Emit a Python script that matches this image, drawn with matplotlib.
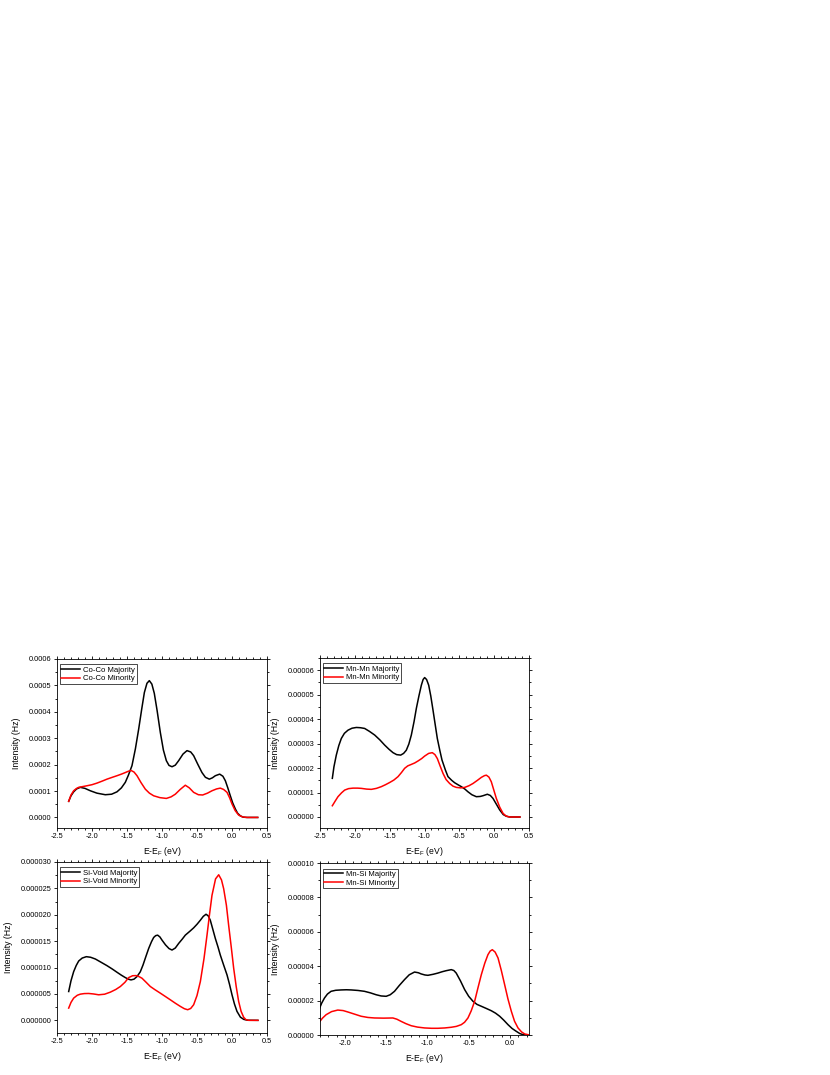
import numpy as np
import matplotlib
matplotlib.use("Agg")
import matplotlib.pyplot as plt
from matplotlib.ticker import MultipleLocator, FormatStrFormatter

plt.rcParams["font.family"] = ["Liberation Sans", "DejaVu Sans"]

# Co-Co (values in units of 1e-4 Hz)
coco_maj_x = [-2.333, -2.30, -2.262, -2.22, -2.167, -2.10, -2.024, -1.93, -1.81, -1.72, -1.643,
              -1.58, -1.524, -1.48, -1.429, -1.38, -1.333, -1.29, -1.252, -1.215, -1.181, -1.145,
              -1.110, -1.07, -1.024, -0.98, -0.938, -0.90, -0.857, -0.81, -0.762, -0.70, -0.643,
              -0.59, -0.548, -0.49, -0.429, -0.38, -0.324, -0.28, -0.238, -0.176, -0.13, -0.095,
              -0.06, -0.024, 0.01, 0.048, 0.08, 0.119, 0.16, 0.214, 0.367]
coco_maj_y = [0.61, 0.82, 0.97, 1.08, 1.14, 1.10, 1.01, 0.92, 0.86, 0.88, 0.97,
              1.12, 1.33, 1.60, 1.96, 2.60, 3.35, 4.10, 4.73, 5.08, 5.18, 5.05,
              4.70, 4.05, 3.22, 2.55, 2.15, 1.97, 1.92, 1.98, 2.15, 2.40, 2.53,
              2.48, 2.34, 2.02, 1.70, 1.52, 1.45, 1.50, 1.58, 1.64, 1.56, 1.39,
              1.12, 0.82, 0.55, 0.32, 0.16, 0.06, 0.01, 0.0, 0.0]
coco_min_x = [-2.333, -2.30, -2.262, -2.22, -2.19, -2.13, -2.071, -2.00, -1.929, -1.86, -1.786,
              -1.71, -1.643, -1.58, -1.524, -1.48, -1.443, -1.40, -1.357, -1.30, -1.238, -1.18,
              -1.119, -1.03, -0.938, -0.87, -0.81, -0.74, -0.667, -0.61, -0.548, -0.48, -0.419,
              -0.35, -0.286, -0.22, -0.167, -0.12, -0.071, -0.035, 0.0, 0.045, 0.095, 0.15,
              0.214, 0.367]
coco_min_y = [0.61, 0.85, 1.01, 1.10, 1.14, 1.17, 1.20, 1.24, 1.30, 1.37, 1.45,
              1.52, 1.58, 1.64, 1.70, 1.75, 1.78, 1.72, 1.58, 1.32, 1.07, 0.92,
              0.82, 0.75, 0.72, 0.78, 0.88, 1.06, 1.22, 1.12, 0.95, 0.86, 0.85,
              0.92, 1.01, 1.08, 1.11, 1.06, 0.95, 0.75, 0.51, 0.26, 0.09, 0.02,
              0.0, 0.0]

# Mn-Mn (units of 1e-5 Hz)
mnmn_maj_x = [-2.323, -2.30, -2.266, -2.23, -2.194, -2.15, -2.098, -2.04, -1.978, -1.92, -1.859,
              -1.79, -1.715, -1.64, -1.572, -1.51, -1.452, -1.40, -1.342, -1.30, -1.261, -1.225,
              -1.189, -1.15, -1.117, -1.08, -1.045, -1.02, -0.998, -0.97, -0.94, -0.91, -0.878,
              -0.845, -0.816, -0.78, -0.749, -0.70, -0.663, -0.61, -0.567, -0.52, -0.471, -0.42,
              -0.376, -0.32, -0.256, -0.20, -0.160, -0.098, -0.055, -0.017, 0.03, 0.079, 0.13,
              0.175, 0.22, 0.37]
mnmn_maj_y = [1.58, 2.05, 2.53, 2.92, 3.21, 3.42, 3.55, 3.63, 3.66, 3.65, 3.62,
              3.50, 3.35, 3.15, 2.94, 2.77, 2.63, 2.55, 2.53, 2.60, 2.73, 2.98,
              3.35, 3.90, 4.44, 4.95, 5.39, 5.62, 5.70, 5.62, 5.39, 4.95, 4.37,
              3.75, 3.21, 2.72, 2.33, 1.92, 1.65, 1.50, 1.40, 1.32, 1.24, 1.14,
              1.03, 0.91, 0.83, 0.84, 0.87, 0.93, 0.88, 0.76, 0.53, 0.29, 0.10,
              0.03, 0.0, 0.0]
mnmn_min_x = [-2.323, -2.28, -2.242, -2.19, -2.146, -2.09, -2.026, -1.96, -1.907, -1.83, -1.763,
              -1.69, -1.620, -1.56, -1.5, -1.44, -1.380, -1.33, -1.285, -1.24, -1.189, -1.14,
              -1.093, -1.04, -0.998, -0.94, -0.888, -0.85, -0.816, -0.775, -0.734, -0.69, -0.639,
              -0.59, -0.543, -0.48, -0.423, -0.36, -0.304, -0.24, -0.184, -0.14, -0.112, -0.075,
              -0.041, -0.005, 0.031, 0.08, 0.127, 0.17, 0.222, 0.37]
mnmn_min_y = [0.46, 0.66, 0.83, 0.99, 1.10, 1.16, 1.18, 1.18, 1.17, 1.14, 1.13,
              1.17, 1.24, 1.32, 1.41, 1.51, 1.65, 1.82, 1.99, 2.09, 2.15, 2.21,
              2.29, 2.39, 2.49, 2.60, 2.63, 2.55, 2.39, 2.08, 1.78, 1.53, 1.37,
              1.26, 1.21, 1.19, 1.21, 1.28, 1.37, 1.50, 1.62, 1.69, 1.71, 1.63,
              1.44, 1.10, 0.76, 0.40, 0.15, 0.04, 0.0, 0.0]

# Si-Void (units of 1e-6 Hz)
sivoid_maj_x = [-2.333, -2.30, -2.262, -2.225, -2.19, -2.14, -2.081, -2.02, -1.952, -1.87, -1.786,
                -1.71, -1.643, -1.58, -1.524, -1.48, -1.443, -1.40, -1.357, -1.31, -1.271, -1.23,
                -1.19, -1.15, -1.119, -1.09, -1.062, -1.03, -1.0, -0.95, -0.90, -0.857, -0.81,
                -0.762, -0.71, -0.667, -0.60, -0.548, -0.50, -0.452, -0.41, -0.371, -0.34, -0.310,
                -0.275, -0.238, -0.20, -0.167, -0.12, -0.071, -0.035, 0.0, 0.035, 0.071, 0.12,
                0.167, 0.22, 0.37]
sivoid_maj_y = [5.46, 7.50, 9.23, 10.40, 11.24, 11.80, 12.06, 11.95, 11.62, 11.00, 10.36,
                9.72, 9.11, 8.55, 8.10, 7.80, 7.66, 7.80, 8.29, 9.20, 10.49, 12.10,
                13.63, 14.90, 15.70, 16.05, 16.14, 15.80, 15.2, 14.30, 13.60, 13.32, 13.70,
                14.57, 15.40, 16.14, 16.90, 17.52, 18.20, 18.97, 19.70, 20.10, 19.80, 18.97,
                17.30, 15.51, 13.90, 12.37, 10.50, 8.6, 6.80, 4.84, 3.10, 1.70, 0.60,
                0.19, 0.02, 0.0]
sivoid_min_x = [-2.333, -2.30, -2.262, -2.21, -2.167, -2.11, -2.048, -1.98, -1.905, -1.82, -1.738,
                -1.66, -1.595, -1.53, -1.476, -1.42, -1.371, -1.33, -1.286, -1.23, -1.167, -1.10,
                -1.024, -0.95, -0.881, -0.81, -0.738, -0.68, -0.633, -0.59, -0.548, -0.50, -0.452,
                -0.40, -0.357, -0.32, -0.286, -0.235, -0.190, -0.150, -0.119, -0.08, -0.048, -0.01,
                0.024, 0.06, 0.095, 0.13, 0.167, 0.20, 0.238, 0.37]
sivoid_min_y = [2.32, 3.40, 4.21, 4.75, 4.96, 5.07, 5.09, 5.00, 4.84, 4.95, 5.34,
                5.85, 6.41, 7.20, 8.10, 8.45, 8.48, 8.30, 7.98, 7.25, 6.41, 5.80,
                5.15, 4.50, 3.89, 3.25, 2.64, 2.20, 2.01, 2.25, 2.95, 4.70, 7.35,
                11.70, 16.14, 20.20, 23.68, 26.8, 27.58, 26.6, 24.94, 21.80, 18.03, 13.80,
                9.86, 6.40, 3.58, 1.70, 0.57, 0.12, 0.0, 0.0]

# Mn-Si (units of 1e-5 Hz)
mnsi_maj_x = [-2.307, -2.28, -2.246, -2.21, -2.166, -2.11, -2.044, -1.98, -1.923, -1.84, -1.762,
              -1.69, -1.620, -1.56, -1.499, -1.45, -1.398, -1.34, -1.277, -1.22, -1.156, -1.11,
              -1.075, -1.03, -0.994, -0.93, -0.873, -0.82, -0.772, -0.711, -0.68, -0.651, -0.60,
              -0.549, -0.50, -0.448, -0.40, -0.347, -0.29, -0.226, -0.175, -0.125, -0.075, -0.024,
              0.025, 0.077, 0.12, 0.158, 0.238]
mnsi_maj_y = [1.53, 1.85, 2.15, 2.38, 2.54, 2.60, 2.62, 2.63, 2.62, 2.59, 2.54,
              2.45, 2.34, 2.27, 2.25, 2.34, 2.54, 2.88, 3.22, 3.50, 3.66, 3.62,
              3.55, 3.49, 3.47, 3.53, 3.60, 3.68, 3.74, 3.80, 3.75, 3.60, 3.15,
              2.64, 2.25, 1.96, 1.78, 1.67, 1.55, 1.41, 1.27, 1.09, 0.86, 0.60,
              0.38, 0.21, 0.08, 0.02, 0.0]
mnsi_min_x = [-2.307, -2.27, -2.226, -2.16, -2.085, -2.02, -1.964, -1.88, -1.802, -1.72, -1.640,
              -1.53, -1.418, -1.37, -1.317, -1.26, -1.196, -1.12, -1.034, -0.95, -0.873, -0.79,
              -0.711, -0.65, -0.590, -0.55, -0.509, -0.47, -0.428, -0.39, -0.347, -0.305, -0.267,
              -0.24, -0.214, -0.18, -0.145, -0.105, -0.065, -0.025, 0.016, 0.055, 0.097, 0.14,
              0.178, 0.238]
mnsi_min_y = [0.76, 0.98, 1.18, 1.36, 1.45, 1.42, 1.34, 1.21, 1.09, 1.02, 0.99,
              0.98, 0.99, 0.92, 0.79, 0.66, 0.54, 0.46, 0.41, 0.39, 0.39, 0.41,
              0.45, 0.50, 0.60, 0.74, 0.99, 1.40, 1.96, 2.70, 3.51, 4.18, 4.67,
              4.88, 4.96, 4.82, 4.48, 3.75, 2.93, 2.10, 1.38, 0.80, 0.41, 0.18,
              0.06, 0.0]

panels = [
    # rect, name, majority, minority, scale, ylim, ystep, yfmt, xlim
    ([57 / 830, 1 - 828 / 1075, 210 / 830, 169 / 1075], "Co-Co",
     (coco_maj_x, coco_maj_y), (coco_min_x, coco_min_y), 1e-4,
     (-0.00004, 0.0006), 0.0001, "%.4f", (-2.5, 0.5)),
    ([320 / 830, 1 - 828 / 1075, 209 / 830, 170 / 1075], "Mn-Mn",
     (mnmn_maj_x, mnmn_maj_y), (mnmn_min_x, mnmn_min_y), 1e-5,
     (-0.0000045, 0.000065), 0.00001, "%.5f", (-2.5, 0.5)),
    ([57 / 830, 1 - 1033 / 1075, 210 / 830, 171 / 1075], "Si-Void",
     (sivoid_maj_x, sivoid_maj_y), (sivoid_min_x, sivoid_min_y), 1e-6,
     (-0.0000024, 0.00003), 0.000005, "%.6f", (-2.5, 0.5)),
    ([320 / 830, 1 - 1035 / 1075, 209 / 830, 172 / 1075], "Mn-Si",
     (mnsi_maj_x, mnsi_maj_y), (mnsi_min_x, mnsi_min_y), 1e-5,
     (0.0, 0.0001), 0.00002, "%.5f", (-2.3, 0.23)),
]

fig = plt.figure(figsize=(8.3, 10.75), dpi=100)

for rect, name, maj, mino, scale, ylim, ystep, yfmt, xlim in panels:
    ax = fig.add_axes(rect)
    ax.plot(maj[0], np.array(maj[1]) * scale, color="black", lw=1.1, label=name + " Majority")
    ax.plot(mino[0], np.array(mino[1]) * scale, color="red", lw=1.1, label=name + " Minority")
    ax.set_xlim(*xlim)
    ax.set_ylim(*ylim)
    ax.xaxis.set_major_locator(MultipleLocator(0.5))
    ax.xaxis.set_minor_locator(MultipleLocator(0.1))
    ax.xaxis.set_major_formatter(FormatStrFormatter("%.1f"))
    ax.yaxis.set_major_locator(MultipleLocator(ystep))
    ax.yaxis.set_minor_locator(MultipleLocator(ystep / 2))
    ax.yaxis.set_major_formatter(FormatStrFormatter(yfmt))
    ax.tick_params(which="both", direction="out", top=True, right=True,
                   labelsize=5.3, pad=1.5, width=0.6)
    ax.tick_params(which="major", length=2.4)
    ax.tick_params(which="minor", length=1.4)
    for s in ax.spines.values():
        s.set_linewidth(0.6)
    ax.set_xlabel(r"E-E$_\mathregular{F}$ (eV)", fontsize=6.2, labelpad=3)
    ax.set_ylabel("Intensity (Hz)", fontsize=6.3, labelpad=5.5)
    leg = ax.legend(loc="upper left", bbox_to_anchor=(0.012, 0.968), borderaxespad=0,
                    fontsize=5.6, frameon=True, fancybox=False, framealpha=1,
                    edgecolor="black", handlelength=2.4, handletextpad=0.35,
                    borderpad=0.25, labelspacing=0.15)
    leg.get_frame().set_linewidth(0.5)

fig.savefig("out.png", dpi=100)
